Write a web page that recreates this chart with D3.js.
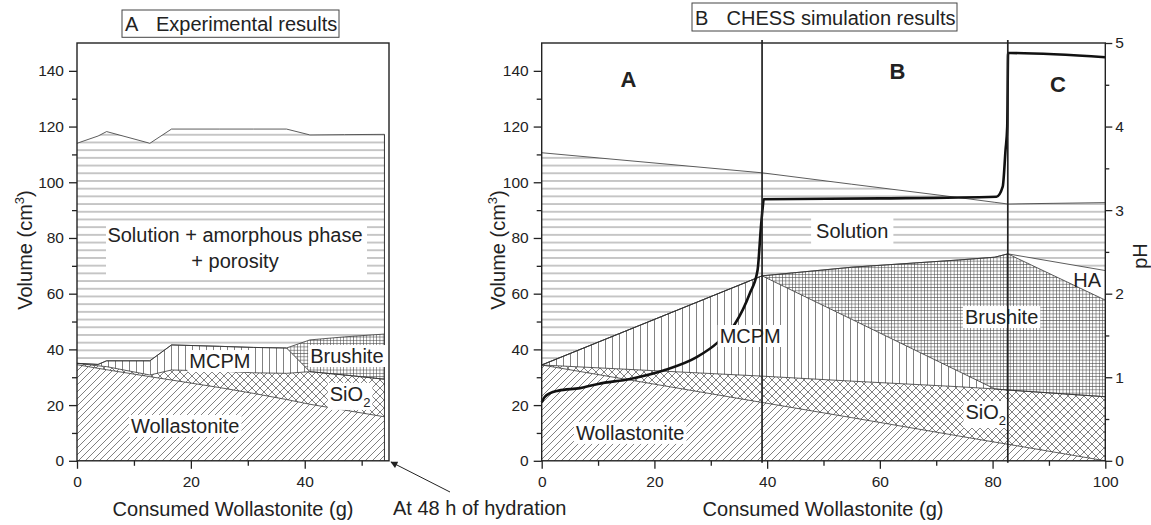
<!DOCTYPE html>
<html>
<head>
<meta charset="utf-8">
<script src="https://cdn.jsdelivr.net/npm/d3@7"></script>
<style>
  body { margin: 0; background: #fff; }
  svg { display: block; }
  text { font-family: "Liberation Sans", Arial, sans-serif; fill: #222; }
</style>
</head>
<body>
<svg id="chart" width="1151" height="525"></svg>
<script>
// ---------- Panel A: experimental results (cumulative volumes, cm3) ----------
const expX        = [0, 3.7, 5.2, 12.8, 16.6, 25, 31, 36.8, 40.9, 47, 54];
const expWollTop  = [34.5, 33.2, 32.7, 30.2, 29.0, 26.3, 24.2, 22.0, 20.3, 18.2, 15.8];
const expSiO2Top  = [35.0, 34.1, 33.8, 30.8, 32.6, 32.2, 31.6, 31.4, 32.0, 30.8, 29.3];
const expMcpmTop  = [35.0, 34.6, 35.9, 35.9, 41.6, 41.1, 40.7, 40.5, 32.0, 30.8, 29.3];
const expBrushTop = [35.0, 34.6, 35.9, 35.9, 41.6, 41.1, 40.7, 40.5, 43.4, 44.5, 45.5];
const expSolTop   = [114.0, 116.6, 118.2, 114.0, 119.1, 119.1, 119.1, 119.1, 117.0, 117.1, 117.2];

// ---------- Panel B: CHESS simulation (cumulative volumes, cm3) ----------
const simX        = [0, 39.1, 55, 74, 80.4, 82.7, 100];
const simWollTop  = [34.4, 20.95, 15.5, 8.9, 6.7, 5.95, 0];
const simSiO2Top  = [34.4, 30.4, 28.6, 26.6, 25.8, 25.4, 23.0];
const simMcpmTop  = [34.4, 66.4, 50.8, 32.1, 25.8, 25.4, 23.0];
const simBrushTop = [34.4, 66.4, 69.5, 72.1, 73.1, 74.3, 57.7];
const simHaTop    = [34.4, 66.4, 69.5, 72.1, 73.1, 74.3, 68.3];
const simSolTop   = [110.6, 103.4, 99.3, 94.5, 92.8, 92.2, 92.7];

// simulated pH
const phX = [0, 0.5, 1.5, 3, 6.8, 10, 15.7, 21.6, 27.5, 31.3, 34.3, 36.9, 38.3, 38.9, 39.2, 39.4, 60, 80.7, 81.8, 82.3, 82.6, 82.75, 83.2, 100];
const phY = [0.70, 0.76, 0.81, 0.84, 0.87, 0.92, 0.98, 1.08, 1.24, 1.42, 1.64, 2.0, 2.28, 2.8, 3.02, 3.13, 3.14, 3.16, 3.28, 3.72, 4.0, 4.88, 4.88, 4.83];

// reaction zone boundaries (g)
const zoneBounds = [39.1, 82.7];
const zoneNames = ["A", "B", "C"];
const zoneNamePos = [[15.4, 134.3], [63.1, 137.1], [91.6, 132.5]];

// axis ticks
const volTicks = [0, 20, 40, 60, 80, 100, 120, 140];
const volMinor = [10, 30, 50, 70, 90, 110, 130];
const expXTicks = [0, 20, 40];
const expXMinor = [10, 30, 50];
const simXTicks = [0, 20, 40, 60, 80, 100];
const simXMinor = [10, 30, 50, 70, 90];
const phTicks = [0, 1, 2, 3, 4, 5];
const phMinor = [0.5, 1.5, 2.5, 3.5, 4.5];

const svg = d3.select("#chart");
const ink = "#222";
const hatch = "#555";

// ---------- hatch patterns ----------
const defs = svg.append("defs");
function pattern(id, w, h, draw) {
  const p = defs.append("pattern").attr("id", id)
    .attr("patternUnits", "userSpaceOnUse").attr("width", w).attr("height", h);
  p.append("rect").attr("width", w).attr("height", h).attr("fill", "#fff");
  draw(p);
}
const ln = (p, x1, y1, x2, y2, c, sw) => p.append("line")
  .attr("x1", x1).attr("y1", y1).attr("x2", x2).attr("y2", y2)
  .attr("stroke", c).attr("stroke-width", sw);

pattern("pWoll", 7, 7, p => {
  ln(p, -1, 8, 8, -1, hatch, 0.75);
  ln(p, -1, 1, 1, -1, hatch, 0.75);
  ln(p, 6, 8, 8, 6, hatch, 0.75);
});
pattern("pSiO2", 8, 8, p => {
  ln(p, 0, 8, 8, 0, hatch, 0.75);
  ln(p, 0, 0, 8, 8, hatch, 0.75);
});
pattern("pMcpm", 7, 7, p => { ln(p, 3.5, 0, 3.5, 7, "#6a6a6a", 0.85); });
pattern("pBrush", 3.3, 3.3, p => {
  ln(p, 0, 0.3, 3.3, 0.3, "#4a4a4a", 0.65);
  ln(p, 0.3, 0, 0.3, 3.3, "#4a4a4a", 0.65);
});
pattern("pSol", 20, 7.7, p => { ln(p, 0, 3.85, 20, 3.85, "#808080", 0.9); });

// ---------- scales ----------
const yTop = 43, yBot = 460.8;
const yVol = d3.scaleLinear().domain([0, 150]).range([yBot, yTop]);
const xExp = d3.scaleLinear().domain([0, 54.8]).range([77, 389]);
const xSim = d3.scaleLinear().domain([0, 100]).range([541.7, 1105.3]);
const yPh = d3.scaleLinear().domain([0, 5]).range([yBot, yTop]);

function layers(g, xs, xScale, bounds, fills) {
  for (let i = 0; i < fills.length; i++) {
    const lo = bounds[i], hi = bounds[i + 1];
    const area = d3.area()
      .x((d, j) => xScale(xs[j]))
      .y0((d, j) => yVol(lo ? lo[j] : 0))
      .y1((d, j) => yVol(hi[j]));
    g.append("path").datum(xs).attr("d", area).attr("fill", fills[i]).attr("stroke", "none");
  }
  const line = arr => d3.line().x((d, j) => xScale(xs[j])).y((d, j) => yVol(arr[j]))(xs);
  bounds.slice(1).forEach(arr => {
    g.append("path").attr("d", line(arr)).attr("fill", "none")
      .attr("stroke", "#333").attr("stroke-width", 0.8);
  });
}

// ---------- panel A layers ----------
const gA = svg.append("g");
layers(gA, expX, xExp,
  [null, expWollTop, expSiO2Top, expMcpmTop, expBrushTop, expSolTop],
  ["url(#pWoll)", "url(#pSiO2)", "url(#pMcpm)", "url(#pBrush)", "url(#pSol)"]);
// right edge of the measured data
gA.append("line")
  .attr("x1", xExp(expX[expX.length - 1])).attr("x2", xExp(expX[expX.length - 1]))
  .attr("y1", yVol(0)).attr("y2", yVol(expSolTop[expSolTop.length - 1]))
  .attr("stroke", "#333").attr("stroke-width", 1);

// ---------- panel B layers ----------
const gB = svg.append("g");
layers(gB, simX, xSim,
  [null, simWollTop, simSiO2Top, simMcpmTop, simBrushTop, simHaTop, simSolTop],
  ["url(#pWoll)", "url(#pSiO2)", "url(#pMcpm)", "url(#pBrush)", "#fff", "url(#pSol)"]);

// pH curve
const phLine = d3.line().curve(d3.curveMonotoneX)
  .x((d, i) => xSim(phX[i])).y((d, i) => yPh(phY[i]));
gB.append("path").datum(phX).attr("d", phLine)
  .attr("fill", "none").attr("stroke", "#111").attr("stroke-width", 2.6);

// ---------- region labels ----------
function label(g, txt, x, y, opts = {}) {
  const t = g.append("text").attr("x", x).attr("y", y)
    .attr("text-anchor", opts.anchor || "middle")
    .attr("font-size", opts.size || 20)
    .attr("font-weight", opts.bold ? "bold" : "normal");
  if (opts.sub) {
    t.append("tspan").text(txt);
    t.append("tspan").text(opts.sub).attr("font-size", 13).attr("dy", 6);
  } else {
    t.text(txt);
  }
  if (opts.bg) {
    const b = t.node().getBBox();
    const px = opts.padX != null ? opts.padX : 2, py = opts.padY != null ? opts.padY : 0;
    g.insert("rect", () => t.node())
      .attr("x", b.x - px).attr("y", b.y - py)
      .attr("width", b.width + 2 * px).attr("height", b.height + 2 * py)
      .attr("fill", "#fff");
  }
  return t;
}

const gL = svg.append("g");
// panel A
const solBg = gL.append("rect").attr("fill", "#fff");
label(gL, "Solution + amorphous phase", xExp(27.75), yVol(78.6));
label(gL, "+ porosity", xExp(27.75), yVol(69.2));
solBg.attr("x", 106).attr("y", yVol(84.4)).attr("width", 261).attr("height", yVol(65.6) - yVol(84.4));
label(gL, "MCPM", xExp(25.1), yVol(33.3), { bg: true });
label(gL, "Brushite", xExp(47.4), yVol(35.1), { bg: true });
label(gL, "SiO", xExp(44.4), yVol(21.5), { anchor: "start", sub: "2", bg: true });
label(gL, "Wollastonite", xExp(19.0), yVol(10.0), { bg: true });

// panel B
label(gL, "Solution", xSim(55.1), yVol(80.0), { bg: true, padX: 5, padY: 2 });
label(gL, "MCPM", xSim(37.0), yVol(42.3), { bg: true });
label(gL, "Brushite", xSim(81.6), yVol(49.1), { bg: true });
label(gL, "HA", xSim(96.8), yVol(62.5));
label(gL, "SiO", xSim(75.2), yVol(15.0), { anchor: "start", sub: "2", bg: true });
label(gL, "Wollastonite", xSim(15.7), yVol(7.5), { bg: true });
zoneNames.forEach((n, i) => label(gL, n, xSim(zoneNamePos[i][0]), yVol(zoneNamePos[i][1]), { bold: true, size: 22 }));

// zone boundaries
svg.append("g").selectAll("line").data(zoneBounds).join("line")
  .attr("x1", d => xSim(d)).attr("x2", d => xSim(d))
  .attr("y1", yBot + 2).attr("y2", yTop - 3)
  .attr("stroke", ink).attr("stroke-width", 1.7);

// ---------- axes & frames ----------
function styleAxis(g) {
  g.selectAll("path.domain").remove();
  g.selectAll("line").attr("stroke", ink).attr("stroke-width", 1.3);
  g.selectAll("text").attr("font-size", 15.5).attr("fill", ink)
    .attr("font-family", '"Liberation Sans", Arial, sans-serif');
}
function frame(x0, x1) {
  svg.append("rect").attr("x", x0).attr("y", yTop).attr("width", x1 - x0).attr("height", yBot - yTop)
    .attr("fill", "none").attr("stroke", ink).attr("stroke-width", 1.4);
}
function volAxis(x) {
  svg.append("g").attr("transform", `translate(${x},0)`)
    .call(d3.axisLeft(yVol).tickValues(volTicks).tickSize(8).tickPadding(5).tickSizeOuter(0)).call(styleAxis);
  svg.append("g").attr("transform", `translate(${x},0)`)
    .call(d3.axisLeft(yVol).tickValues(volMinor).tickSize(5).tickFormat("").tickSizeOuter(0)).call(styleAxis);
}
function xAxis(scale, major, minor) {
  svg.append("g").attr("transform", `translate(0,${yBot})`)
    .call(d3.axisBottom(scale).tickValues(major).tickSize(8).tickPadding(7).tickSizeOuter(0)).call(styleAxis);
  svg.append("g").attr("transform", `translate(0,${yBot})`)
    .call(d3.axisBottom(scale).tickValues(minor).tickSize(5).tickFormat("").tickSizeOuter(0)).call(styleAxis);
}

frame(77, 389);
frame(541.7, 1105.3);
volAxis(77);
volAxis(541.7);
xAxis(xExp, expXTicks, expXMinor);
xAxis(xSim, simXTicks, simXMinor);
svg.append("g").attr("transform", "translate(1105.3,0)")
  .call(d3.axisRight(yPh).tickValues(phTicks).tickFormat(d3.format("d"))
    .tickSize(7).tickPadding(3).tickSizeOuter(0)).call(styleAxis);
svg.append("g").attr("transform", "translate(1105.3,0)")
  .call(d3.axisRight(yPh).tickValues(phMinor).tickSize(4).tickFormat("").tickSizeOuter(0)).call(styleAxis);

// axis titles
svg.append("text").attr("x", 233).attr("y", 516).attr("text-anchor", "middle").attr("font-size", 20)
  .text("Consumed Wollastonite (g)");
svg.append("text").attr("x", 823).attr("y", 516).attr("text-anchor", "middle").attr("font-size", 20)
  .text("Consumed Wollastonite (g)");
function volTitle(x) {
  const t = svg.append("text").attr("transform", `translate(${x},250) rotate(-90)`)
    .attr("text-anchor", "middle").attr("font-size", 20);
  t.append("tspan").text("Volume (cm");
  t.append("tspan").text("3").attr("font-size", 13).attr("dy", -8);
  t.append("tspan").text(")").attr("dy", 8);
}
volTitle(32);
volTitle(505);
svg.append("text").attr("transform", "translate(1147,256) rotate(-90)")
  .attr("text-anchor", "middle").attr("font-size", 20).text("pH");

// panel titles
function titleBox(x0, y0, x1, y1, letter, txt, baseline, textX) {
  svg.append("rect").attr("x", x0).attr("y", y0).attr("width", x1 - x0).attr("height", y1 - y0)
    .attr("fill", "#fff").attr("stroke", "#444").attr("stroke-width", 1);
  svg.append("text").attr("x", x0 + 3).attr("y", baseline).attr("font-size", 20).text(letter);
  svg.append("text").attr("x", textX).attr("y", baseline).attr("font-size", 20).text(txt);
}
titleBox(122, 10, 339, 37.3, "A", "Experimental results", 30.5, 156);
titleBox(692, 3, 957, 31, "B", "CHESS simulation results", 24.5, 726.5);

// annotation
defs.append("marker").attr("id", "arrowHead").attr("viewBox", "0 0 10 10")
  .attr("refX", 9).attr("refY", 5).attr("markerWidth", 9).attr("markerHeight", 7)
  .attr("markerUnits", "userSpaceOnUse").attr("orient", "auto")
  .append("path").attr("d", "M0,0 L10,5 L0,10 Z").attr("fill", ink);
svg.append("line").attr("x1", 450).attr("y1", 492).attr("x2", 391).attr("y2", 462)
  .attr("stroke", ink).attr("stroke-width", 1).attr("marker-end", "url(#arrowHead)");
svg.append("text").attr("x", 393).attr("y", 515).attr("font-size", 20).text("At 48 h of hydration");
</script>
</body>
</html>
